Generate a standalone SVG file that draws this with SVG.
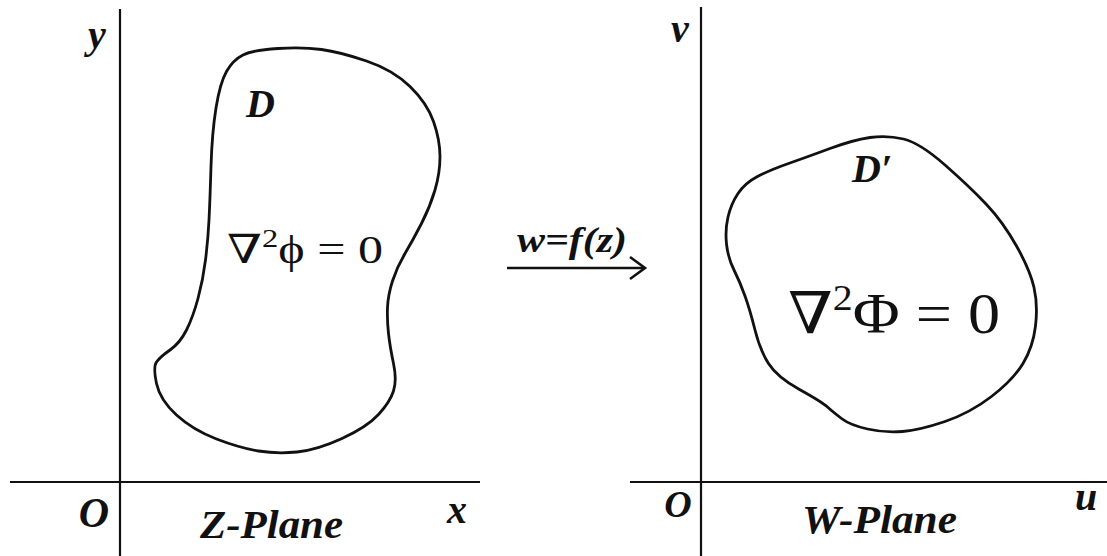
<svg xmlns="http://www.w3.org/2000/svg" width="1107" height="556" viewBox="0 0 1107 556">
<style>
.ax{stroke:#111;stroke-width:2.2;fill:none}
.blob{stroke:#111;stroke-width:2.8;fill:none;stroke-linejoin:round}
.lbl{font-family:"Liberation Serif","Times New Roman",serif;font-weight:bold;font-style:italic;fill:#111}
.math{font-family:"Liberation Serif","DejaVu Serif",serif;fill:#111}
</style>
<rect width="1107" height="556" fill="#fff"/>
<g id="z-plane">
  <line class="ax" x1="120" y1="9" x2="120" y2="556"/>
  <line class="ax" x1="10" y1="482" x2="480" y2="482"/>
  <text class="lbl" x="88" y="48" font-size="40">y</text>
  <text class="lbl" x="94" y="527" font-size="42" text-anchor="middle">O</text>
  <text class="lbl" x="447" y="523" font-size="40">x</text>
  <text class="lbl" x="200" y="538" font-size="40" textLength="143" lengthAdjust="spacingAndGlyphs">Z-Plane</text>
</g>
<g id="region-D">
  <path class="blob" d="M 278,48.5 Q 303,47 321.5,49.5 Q 340,52 366.5,61 Q 393,70 410,86.5 Q 427,103 433.5,121.5 Q 440,140 440,156.5 Q 440,173 435,190 Q 430,207 421.5,223.5 Q 413,240 405,253.5 Q 397,267 392.5,281 Q 388,295 387.5,307.5 Q 387,320 388.5,333.5 Q 390,347 393.5,363.5 Q 397,380 393.5,391 Q 390,402 378.5,414.5 Q 367,427 342,438.5 Q 317,450 297,452 Q 277,454 258.5,451 Q 240,448 216.5,439 Q 193,430 176.5,415 Q 160,400 156.5,383.5 Q 153,367 156.5,362 Q 160,357 170,350 Q 180,343 186.5,330 Q 193,317 198,298.5 Q 203,280 205.5,260 Q 208,240 209,220 Q 210,200 211,166.5 Q 212,133 216,108 Q 220,83 226.5,71.5 Q 233,60 243,55 Q 253,50 278,48.5 Z"/>
  <text class="lbl" x="246" y="117" font-size="40">D</text>
  <text class="math" x="227" y="263" font-size="40" textLength="156" lengthAdjust="spacingAndGlyphs">∇<tspan font-size="26" dy="-16">2</tspan><tspan dy="16">ϕ = 0</tspan></text>
</g>
<g id="connectors">
  <line x1="507" y1="268" x2="643" y2="268" stroke="#111" stroke-width="2.6"/>
  <polyline points="630,257 645,268 630,279" fill="none" stroke="#111" stroke-width="2.6"/>
  <text class="lbl" x="517" y="252" font-size="36" textLength="110" lengthAdjust="spacingAndGlyphs">w=f(z)</text>
</g>
<g id="w-plane">
  <line class="ax" x1="701" y1="7" x2="701" y2="556"/>
  <line class="ax" x1="630" y1="482" x2="1107" y2="482"/>
  <text class="lbl" x="671" y="42" font-size="40">v</text>
  <text class="lbl" x="678" y="517" font-size="38" text-anchor="middle">O</text>
  <text class="lbl" x="1075" y="510" font-size="40">u</text>
  <text class="lbl" x="802" y="533" font-size="40" textLength="155" lengthAdjust="spacingAndGlyphs">W-Plane</text>
</g>
<g id="region-Dprime">
  <path class="blob" stroke-width="3" d="M 728,217 Q 731,204 738,193.5 Q 745,183 757.5,176.5 Q 770,170 788.5,163.5 Q 807,157 830,148.5 Q 853,140 870,137.5 Q 887,135 903.5,139 Q 920,143 945,165 Q 970,187 986.5,204.5 Q 1003,222 1016.5,246 Q 1030,270 1034,287.5 Q 1038,305 1035.5,326 Q 1033,347 1023,363.5 Q 1013,380 991.5,396.5 Q 970,413 945,421.5 Q 920,430 902.5,431.5 Q 885,433 867.5,429 Q 850,425 841.5,418.5 Q 833,412 827.5,407 Q 822,402 799.5,389.5 Q 777,377 768.5,363.5 Q 760,350 755,330 Q 750,310 745,296 Q 740,282 734,270 Q 728,258 726.5,244 Q 725,230 728,217 Z"/>
  <text class="lbl" x="852" y="182" font-size="40">D′</text>
  <text class="math" x="788" y="333" font-size="58" textLength="212" lengthAdjust="spacingAndGlyphs">∇<tspan font-size="36" dy="-23">2</tspan><tspan dy="23">Φ = 0</tspan></text>
</g>
</svg>
